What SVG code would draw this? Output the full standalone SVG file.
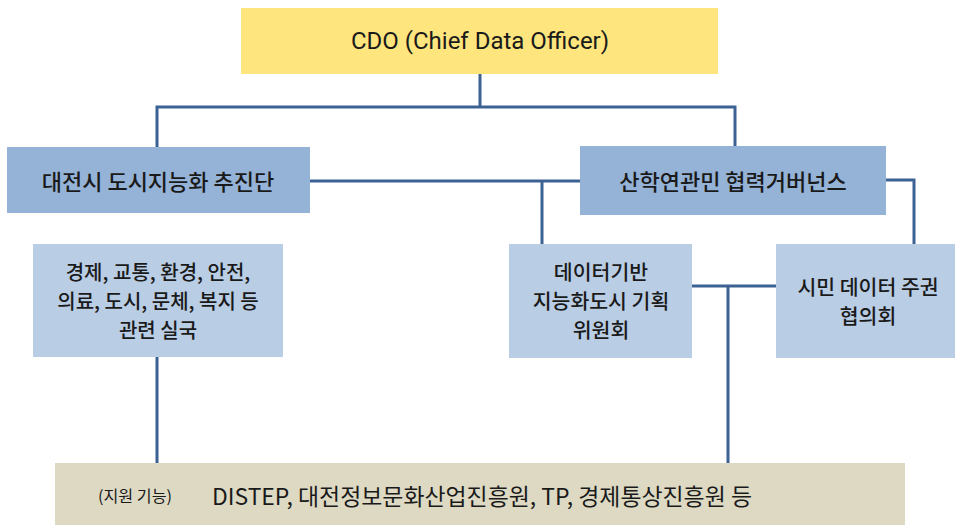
<svg xmlns="http://www.w3.org/2000/svg" width="955" height="525" viewBox="0 0 955 525">
<style>
.t{font-family:"Noto Sans CJK KR","Noto Sans",sans-serif;fill:#1a1a1a;text-anchor:middle;dominant-baseline:central}
.m{font-size:22px;font-weight:500}
.s{font-size:20px;font-weight:500}
.c{stroke:#3C6193;stroke-width:3;fill:none}
</style>
<rect width="955" height="525" fill="#ffffff"/>
<g id="connectors">
<polyline class="c" points="480,74 480,107"/>
<polyline class="c" points="157,147 157,107 735,107 735,147"/>
<polyline class="c" points="310,181 581,181"/>
<polyline class="c" points="542,181 542,244"/>
<polyline class="c" points="886,180 914,180 914,244"/>
<polyline class="c" points="692,286 776,286"/>
<polyline class="c" points="728,286 728,464"/>
<polyline class="c" points="157,357 157,464"/>
</g>
<g id="cdo">
<rect x="241" y="8" width="477" height="66" fill="#FEE57E"/>
<text class="t" x="480" y="41" style="font-family:Roboto,'Noto Sans',sans-serif;font-size:24px">CDO (Chief Data Officer)</text>
</g>
<g id="smart-city-team">
<rect x="7" y="147" width="303" height="66" fill="#95B3D7"/>
<text class="t m" x="158" y="180">대전시 도시지능화 추진단</text>
</g>
<g id="governance">
<rect x="580" y="146" width="306" height="69" fill="#95B3D7"/>
<text class="t m" x="733" y="180">산학연관민 협력거버넌스</text>
</g>
<g id="departments">
<rect x="33" y="244" width="250" height="113" fill="#B9CDE5"/>
<text class="t s"><tspan x="158" y="271">경제, 교통, 환경, 안전,</tspan><tspan x="158" y="300">의료, 도시, 문체, 복지 등</tspan><tspan x="158" y="329">관련 실국</tspan></text>
</g>
<g id="planning-committee">
<rect x="509" y="244" width="183" height="114" fill="#B9CDE5"/>
<text class="t s" style="font-size:20.5px"><tspan x="601" y="271">데이터기반</tspan><tspan x="601" y="300">지능화도시 기획</tspan><tspan x="601" y="329">위원회</tspan></text>
</g>
<g id="citizen-council">
<rect x="776" y="244" width="179" height="114" fill="#B9CDE5"/>
<text class="t s" style="font-size:20.5px"><tspan x="868" y="285.5">시민 데이터 주권</tspan><tspan x="868" y="315">협의회</tspan></text>
</g>
<g id="support">
<rect x="55" y="463" width="850" height="62" fill="#DDD9C3"/>
<text class="t" x="135" y="495" style="font-size:16px" textLength="74" lengthAdjust="spacingAndGlyphs">(지원 기능)</text>
<text class="t" x="482" y="495" style="font-size:23px;font-weight:400" textLength="540" lengthAdjust="spacingAndGlyphs">DISTEP, 대전정보문화산업진흥원, TP, 경제통상진흥원 등</text>
</g>
</svg>
